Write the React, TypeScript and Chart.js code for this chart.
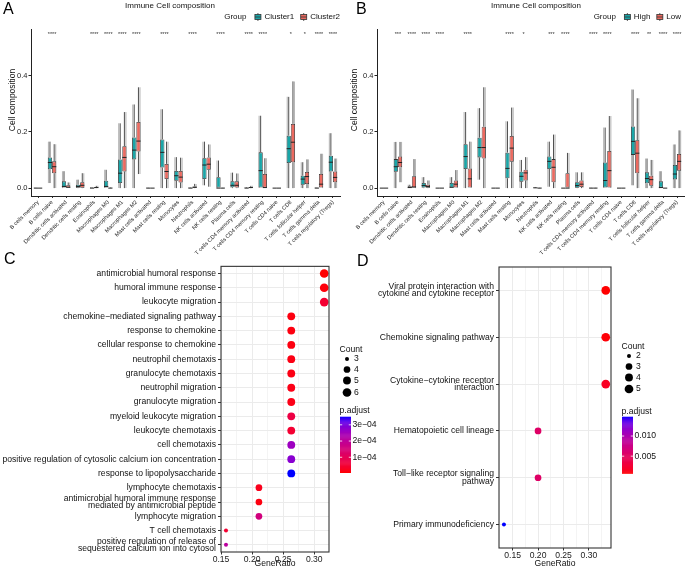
import React, { useEffect, useRef } from 'react';
import { Chart, registerables } from 'chart.js';
Chart.register(...registerables);

const FONT = "'Liberation Sans', Arial, Helvetica, sans-serif";
Chart.defaults.font.family = FONT;

const TEAL = '#1AA6A8';
const SALMON = '#EC6A60';

// ---------- Panel A / B data ----------
const cellTypes = [
  'B cells memory', 'B cells naive', 'Dendritic cells activated', 'Dendritic cells resting',
  'Eosinophils', 'Macrophages M0', 'Macrophages M1', 'Macrophages M2', 'Mast cells activated',
  'Mast cells resting', 'Monocytes', 'Neutrophils', 'NK cells activated', 'NK cells resting',
  'Plasma cells', 'T cells CD4 memory activated', 'T cells CD4 memory resting', 'T cells CD4 naive',
  'T cells CD8', 'T cells follicular helper', 'T cells gamma delta', 'T cells regulatory (Tregs)'
];

// [min, q1, median, q3, max]
const cluster1 = [
  [0, 0, 0, 0, 0.001], [0.018, 0.067, 0.091, 0.109, 0.165], [0, 0, 0.006, 0.024, 0.06],
  [0, 0.001, 0.006, 0.012, 0.03], [0, 0, 0, 0.002, 0.004], [0, 0, 0.006, 0.026, 0.065],
  [0, 0.018, 0.053, 0.102, 0.23], [0, 0.102, 0.135, 0.18, 0.297], [0, 0, 0, 0, 0.001],
  [0, 0.073, 0.127, 0.173, 0.28], [0, 0.026, 0.044, 0.061, 0.11], [0, 0, 0, 0.001, 0.002],
  [0.01, 0.032, 0.082, 0.106, 0.165], [0, 0, 0, 0.039, 0.098], [0, 0.003, 0.01, 0.024, 0.055],
  [0, 0, 0, 0.001, 0.003], [0, 0, 0.062, 0.127, 0.257], [0, 0, 0, 0, 0],
  [0, 0.089, 0.14, 0.186, 0.324], [0, 0.012, 0.032, 0.044, 0.092], [0, 0, 0, 0.001, 0.002],
  [0, 0.059, 0.092, 0.115, 0.195]
];
const cluster2 = [
  [0, 0, 0, 0, 0], [0, 0.053, 0.076, 0.095, 0.156], [0, 0, 0.003, 0.01, 0.02],
  [0, 0.001, 0.01, 0.021, 0.053], [0, 0.001, 0.002, 0.004, 0.008], [0, 0, 0, 0, 0.002],
  [0, 0.059, 0.109, 0.149, 0.27], [0.05, 0.13, 0.167, 0.235, 0.358], [0, 0, 0, 0, 0],
  [0, 0.032, 0.059, 0.086, 0.165], [0, 0.02, 0.039, 0.061, 0.108], [0, 0.001, 0.003, 0.006, 0.015],
  [0.005, 0.065, 0.085, 0.109, 0.155], [0, 0, 0, 0, 0.001], [0, 0.002, 0.01, 0.024, 0.052],
  [0, 0.001, 0.002, 0.004, 0.008], [0, 0, 0.002, 0.05, 0.106], [0, 0, 0, 0, 0],
  [0, 0.092, 0.163, 0.228, 0.379], [0, 0.014, 0.041, 0.057, 0.102], [0, 0, 0.014, 0.05, 0.122],
  [0, 0.021, 0.038, 0.059, 0.105]
];
const starsA = ['', '****', '', '', '****', '****', '****', '****', '', '****', '', '****', '', '****',
  '', '****', '****', '', '*', '*', '****', '****'];

const riskHigh = [
  [0, 0, 0, 0, 0], [0, 0.058, 0.076, 0.103, 0.164], [0, 0, 0.002, 0.007, 0.012],
  [0, 0.002, 0.009, 0.018, 0.039], [0, 0, 0, 0, 0], [0, 0, 0.003, 0.018, 0.039],
  [0, 0.068, 0.112, 0.156, 0.27], [0.03, 0.109, 0.144, 0.179, 0.284], [0, 0, 0, 0, 0],
  [0, 0.035, 0.07, 0.126, 0.237], [0, 0.023, 0.042, 0.058, 0.1], [0, 0, 0.001, 0.002, 0.004],
  [0.005, 0.068, 0.095, 0.112, 0.165], [0, 0, 0, 0, 0], [0, 0.001, 0.009, 0.021, 0.056],
  [0, 0, 0, 0, 0.001], [0, 0, 0.027, 0.091, 0.215], [0, 0, 0, 0, 0],
  [0.01, 0.118, 0.166, 0.219, 0.35], [0, 0.017, 0.034, 0.056, 0.105], [0, 0, 0.002, 0.024, 0.06],
  [0, 0.031, 0.05, 0.082, 0.155]
];
const riskLow = [
  [0, 0, 0, 0, 0], [0.021, 0.074, 0.091, 0.112, 0.164], [0, 0, 0.004, 0.042, 0.103],
  [0, 0.001, 0.006, 0.012, 0.027], [0, 0, 0, 0, 0], [0, 0, 0.014, 0.027, 0.064],
  [0, 0, 0.033, 0.07, 0.165], [0, 0.105, 0.144, 0.218, 0.358], [0, 0, 0, 0, 0],
  [0, 0.094, 0.142, 0.185, 0.286], [0, 0.027, 0.054, 0.065, 0.11], [0, 0, 0, 0, 0.001],
  [0, 0.021, 0.074, 0.103, 0.19], [0, 0, 0, 0.053, 0.125], [0, 0.004, 0.014, 0.027, 0.056],
  [0, 0, 0, 0, 0.001], [0, 0, 0.062, 0.132, 0.256], [0, 0, 0, 0, 0],
  [0, 0.053, 0.124, 0.17, 0.319], [0, 0.008, 0.03, 0.044, 0.1], [0, 0, 0, 0, 0],
  [0, 0.062, 0.095, 0.121, 0.205]
];
const starsB = ['', '***', '****', '****', '****', '', '****', '', '', '****', '*', '', '***', '****',
  '', '****', '****', '', '****', '**', '****', '****'];

const boxYTicks = [0, 0.2, 0.4];

// ---------- Panel C data ----------
const termsC = [
  'antimicrobial humoral response', 'humoral immune response', 'leukocyte migration',
  'chemokine\u2212mediated signaling pathway', 'response to chemokine', 'cellular response to chemokine',
  'neutrophil chemotaxis', 'granulocyte chemotaxis', 'neutrophil migration', 'granulocyte migration',
  'myeloid leukocyte migration', 'leukocyte chemotaxis', 'cell chemotaxis',
  'positive regulation of cytosolic calcium ion concentration', 'response to lipopolysaccharide',
  'lymphocyte chemotaxis', ['antimicrobial humoral immune response', 'mediated by antimicrobial peptide'],
  'lymphocyte migration', 'T cell chemotaxis',
  ['positive regulation of release of', 'sequestered calcium ion into cytosol']
];
const ratioC = [0.316, 0.316, 0.316, 0.263, 0.263, 0.263, 0.263, 0.263, 0.263, 0.263, 0.263, 0.263,
  0.263, 0.263, 0.263, 0.211, 0.211, 0.211, 0.158, 0.158];
const countC = [6, 6, 6, 5, 5, 5, 5, 5, 5, 5, 5, 5, 5, 5, 5, 4, 4, 4, 3, 3];
const padjC = [6e-6, 1.2e-5, 5e-5, 1.5e-5, 1.5e-5, 1.5e-5, 1.8e-5, 1.8e-5, 2e-5, 2e-5, 7.5e-5, 5e-5,
  2.6e-4, 2.85e-4, 3.5e-4, 2.5e-5, 1.5e-5, 1.6e-4, 5e-5, 2.1e-4];
const ticksC = [0.15, 0.175, 0.2, 0.225, 0.25, 0.275, 0.3];
const countLegendC = [3, 4, 5, 6];
const padjBreaksC = [1e-4, 2e-4, 3e-4];
const padjLabelsC = ['1e\u221204', '2e\u221204', '3e\u221204'];

// ---------- Panel D data ----------
const termsD = [
  ['Viral protein interaction with', 'cytokine and cytokine receptor'], 'Chemokine signaling pathway',
  ['Cytokine\u2212cytokine receptor', 'interaction'], 'Hematopoietic cell lineage',
  ['Toll\u2212like receptor signaling', 'pathway'], 'Primary immunodeficiency'
];
const ratioD = [0.333, 0.333, 0.333, 0.2, 0.2, 0.133];
const countD = [5, 5, 5, 3, 3, 2];
const padjD = [0.00075, 0.0009, 0.0018, 0.0056, 0.0056, 0.0148];
const ticksD = [0.125, 0.15, 0.175, 0.2, 0.225, 0.25, 0.275, 0.3, 0.325];
const countLegendD = [2, 3, 4, 5];
const padjBreaksD = [0.005, 0.01];
const padjLabelsD = ['0.005', '0.010'];

const majorGO = [0.15, 0.2, 0.25, 0.3];

// ---------- colour helpers (Lab interpolation red -> blue) ----------
const XN = 0.95047, YN = 1, ZN = 1.08883;
function srgbToLin(c: number) { c /= 255; return c <= 0.04045 ? c / 12.92 : Math.pow((c + 0.055) / 1.055, 2.4); }
function linToSrgb(c: number) {
  const v = c <= 0.0031308 ? 12.92 * c : 1.055 * Math.pow(Math.max(c, 0), 1 / 2.4) - 0.055;
  return Math.round(Math.min(1, Math.max(0, v)) * 255);
}
function rgbToLab(rgb: number[]) {
  const R = srgbToLin(rgb[0]), G = srgbToLin(rgb[1]), B = srgbToLin(rgb[2]);
  const X = (0.4124 * R + 0.3576 * G + 0.1805 * B) / XN;
  const Y = (0.2126 * R + 0.7152 * G + 0.0722 * B) / YN;
  const Z = (0.0193 * R + 0.1192 * G + 0.9505 * B) / ZN;
  const f = (t: number) => (t > 0.008856 ? Math.cbrt(t) : 7.787 * t + 16 / 116);
  const fx = f(X), fy = f(Y), fz = f(Z);
  return [116 * fy - 16, 500 * (fx - fy), 200 * (fy - fz)];
}
function labToRgb(lab: number[]) {
  const fy = (lab[0] + 16) / 116, fx = fy + lab[1] / 500, fz = fy - lab[2] / 200;
  const finv = (t: number) => { const t3 = t * t * t; return t3 > 0.008856 ? t3 : (t - 16 / 116) / 7.787; };
  const X = XN * finv(fx), Y = YN * finv(fy), Z = ZN * finv(fz);
  const R = 3.2406 * X - 1.5372 * Y - 0.4986 * Z;
  const G = -0.9689 * X + 1.8758 * Y + 0.0415 * Z;
  const B = 0.0557 * X - 0.204 * Y + 1.057 * Z;
  return `rgb(${linToSrgb(R)},${linToSrgb(G)},${linToSrgb(B)})`;
}
const LAB_LO = rgbToLab([255, 0, 0]);
const LAB_HI = rgbToLab([0, 0, 255]);
function gradColor(t: number) {
  const tt = Math.min(1, Math.max(0, t));
  return labToRgb(LAB_LO.map((c, i) => c + (LAB_HI[i] - c) * tt));
}
function dotRadius(c: number, lo: number, hi: number) {
  return 2 + 2.35 * Math.sqrt((c - lo) / (hi - lo));
}
const isMajor = (v: any) => typeof v === 'number' && majorGO.some((m) => Math.abs(m - v) < 1e-6);

// ---------- box plot panels ----------
function buildBox(canvas: HTMLCanvasElement, p: any) {
  const colors = [TEAL, SALMON];
  const extras = {
    id: 'boxExtras',
    beforeDatasetsDraw(chart: any) {
      const ctx = chart.ctx; const ys = chart.scales.y;
      p.groups.forEach((g: number[][], d: number) => {
        const meta = chart.getDatasetMeta(d);
        g.forEach((s, j) => {
          const el = meta.data[j]; const x = el.x;
          ctx.save();
          ctx.strokeStyle = 'rgba(165,165,165,0.8)'; ctx.lineWidth = 1.1;
          const gx = x + (d === 0 ? -1.5 : 1.5);
          ctx.beginPath(); ctx.moveTo(gx, ys.getPixelForValue(s[0])); ctx.lineTo(gx, ys.getPixelForValue(s[4])); ctx.stroke();
          ctx.strokeStyle = '#3a3a3a'; ctx.lineWidth = 0.9;
          ctx.beginPath();
          ctx.moveTo(x, ys.getPixelForValue(s[4])); ctx.lineTo(x, ys.getPixelForValue(s[3]));
          ctx.moveTo(x, ys.getPixelForValue(s[1])); ctx.lineTo(x, ys.getPixelForValue(s[0]));
          ctx.stroke();
          ctx.restore();
        });
      });
    },
    afterDatasetsDraw(chart: any) {
      const ctx = chart.ctx; const ys = chart.scales.y; const xs = chart.scales.x;
      p.groups.forEach((g: number[][], d: number) => {
        const meta = chart.getDatasetMeta(d);
        g.forEach((s, j) => {
          const el = meta.data[j]; const w = el.width;
          const y = ys.getPixelForValue(s[2]);
          ctx.save(); ctx.strokeStyle = '#222'; ctx.lineWidth = 1;
          ctx.beginPath(); ctx.moveTo(el.x - w / 2, y); ctx.lineTo(el.x + w / 2, y); ctx.stroke();
          ctx.restore();
        });
      });
      ctx.save();
      ctx.font = `5.5px ${FONT}`; ctx.fillStyle = '#333'; ctx.textAlign = 'center'; ctx.textBaseline = 'middle';
      p.stars.forEach((st: string, i: number) => {
        if (st) ctx.fillText(st, xs.getPixelForValue(i), ys.getPixelForValue(0.55) + 1.5);
      });
      ctx.restore();
    },
    afterDraw(chart: any) {
      const ctx = chart.ctx;
      ctx.save();
      ctx.fillStyle = '#111'; ctx.textBaseline = 'middle';
      ctx.font = `8px ${FONT}`; ctx.textAlign = 'center';
      ctx.fillText('Immune Cell composition', p.titleX, 6);
      // legend
      ctx.textAlign = 'left';
      const gw = ctx.measureText('Group').width;
      const ws = p.names.map((n: string) => ctx.measureText(n).width);
      const total = gw + 8 + ws.reduce((a: number, w: number) => a + 10 + w, 0) + 6 * (ws.length - 1);
      let x = p.legendEnd - total; const ly = 17;
      ctx.fillText('Group', x, ly); x += gw + 8;
      p.names.forEach((n: string, i: number) => {
        ctx.strokeStyle = '#333'; ctx.lineWidth = 0.8;
        ctx.beginPath(); ctx.moveTo(x + 3.5, ly - 4); ctx.lineTo(x + 3.5, ly + 4); ctx.stroke();
        ctx.fillStyle = colors[i]; ctx.fillRect(x + 0.5, ly - 2.5, 6, 5);
        ctx.strokeRect(x + 0.5, ly - 2.5, 6, 5);
        ctx.beginPath(); ctx.moveTo(x + 0.5, ly); ctx.lineTo(x + 6.5, ly); ctx.stroke();
        ctx.fillStyle = '#111';
        ctx.fillText(n, x + 10, ly);
        x += 10 + ws[i] + 6;
      });
      // y title
      ctx.translate(p.yTitleX, 100); ctx.rotate(-Math.PI / 2);
      ctx.font = `8.5px ${FONT}`; ctx.textAlign = 'center';
      ctx.fillText('Cell composition', 0, 0);
      ctx.restore();
    }
  };
  return new Chart(canvas, {
    type: 'bar',
    data: {
      labels: cellTypes,
      datasets: p.groups.map((g: number[][], d: number) => ({
        label: p.names[d],
        data: g.map((s) => [s[1], s[3]]),
        backgroundColor: colors[d], borderColor: '#333', borderWidth: 0.8, borderSkipped: false,
        categoryPercentage: 0.6, barPercentage: 1
      }))
    },
    options: {
      responsive: false, animation: false, devicePixelRatio: 1, events: [],
      layout: { padding: { top: 29, right: p.rightPad, left: 0, bottom: 0 } },
      plugins: { legend: { display: false }, title: { display: false }, tooltip: { enabled: false } },
      scales: {
        x: {
          type: 'category', offset: true,
          grid: { display: true, drawOnChartArea: false, drawTicks: true, tickLength: 2, tickColor: '#333', offset: false },
          border: { display: true, color: '#222', width: 1 },
          ticks: { autoSkip: false, maxRotation: 45, minRotation: 45, font: { size: 5.6 }, color: '#1a1a1a', padding: 1 },
          afterFit: (s: any) => { s.height = 66; s.paddingLeft = 0; s.paddingRight = 0; }
        },
        y: {
          type: 'linear', min: -0.028, max: 0.565,
          grid: { display: true, drawOnChartArea: false, tickLength: 2.5, tickColor: '#222' },
          border: { display: true, color: '#222', width: 1 },
          ticks: { font: { size: 7.5 }, color: '#222', padding: 1, callback: (v: any) => Number(v).toFixed(1) },
          afterBuildTicks: (s: any) => { s.ticks = boxYTicks.map((v) => ({ value: v })); },
          afterFit: (s: any) => { s.width = p.yWidth; s.paddingTop = 0; s.paddingBottom = 0; }
        }
      }
    } as any,
    plugins: [extras as any]
  });
}

// ---------- dot plot panels ----------
function buildDot(canvas: HTMLCanvasElement, p: any) {
  const cLo = Math.min(...p.count), cHi = Math.max(...p.count);
  const pLo = Math.min(...p.padj), pHi = Math.max(...p.padj);
  const extras = {
    id: 'dotExtras',
    afterDatasetsDraw(chart: any) {
      const ctx = chart.ctx; const ca = chart.chartArea;
      ctx.save();
      ctx.strokeStyle = '#333'; ctx.lineWidth = 1.1;
      ctx.strokeRect(ca.left, ca.top, ca.right - ca.left, ca.bottom - ca.top);
      ctx.restore();
    },
    afterDraw(chart: any) {
      const ctx = chart.ctx; const ca = chart.chartArea;
      const lx = ca.right + 10.5;
      ctx.save();
      ctx.font = `8.6px ${FONT}`; ctx.fillStyle = '#111'; ctx.textAlign = 'left'; ctx.textBaseline = 'middle';
      ctx.fillText('Count', lx, p.countTitleY);
      p.countLegend.forEach((c: number, i: number) => {
        const cy = p.countY[i];
        ctx.fillStyle = '#000';
        ctx.beginPath(); ctx.arc(lx + 7.5, cy, dotRadius(c, cLo, cHi), 0, Math.PI * 2); ctx.fill();
        ctx.fillStyle = '#111';
        ctx.fillText(String(c), lx + 14.5, cy);
      });
      ctx.fillText('p.adjust', lx, p.padjTitleY);
      const bx = lx + 0.5, bw = 11, bt = p.barTop, bb = p.barBottom;
      const n = 60;
      for (let k = 0; k < n; k++) {
        const y0 = bb - (k / n) * (bb - bt);
        const y1 = bb - ((k + 1) / n) * (bb - bt);
        ctx.fillStyle = gradColor((k + 0.5) / n);
        ctx.fillRect(bx, y1, bw, y0 - y1 + 0.5);
      }
      ctx.strokeStyle = '#fff'; ctx.lineWidth = 0.8;
      p.padjBreaks.forEach((v: number, i: number) => {
        const y = bb - ((v - pLo) / (pHi - pLo)) * (bb - bt);
        ctx.beginPath();
        ctx.moveTo(bx, y); ctx.lineTo(bx + 2.2, y);
        ctx.moveTo(bx + bw - 2.2, y); ctx.lineTo(bx + bw, y);
        ctx.stroke();
        ctx.fillStyle = '#111';
        ctx.fillText(p.padjLabels[i], bx + bw + 1.5, y);
      });
      ctx.restore();
    }
  };
  return new Chart(canvas, {
    type: 'scatter',
    data: {
      datasets: [{
        data: p.terms.map((_: any, i: number) => ({ x: p.ratio[i], y: i })),
        pointRadius: p.count.map((c: number) => dotRadius(c, cLo, cHi)),
        pointHoverRadius: p.count.map((c: number) => dotRadius(c, cLo, cHi)),
        backgroundColor: p.padj.map((v: number) => gradColor((v - pLo) / (pHi - pLo))),
        borderWidth: 0
      }]
    },
    options: {
      responsive: false, animation: false, devicePixelRatio: 1, events: [],
      layout: { padding: { top: p.padTop, right: p.padRight, left: 0, bottom: 0 } },
      plugins: { legend: { display: false }, title: { display: false }, tooltip: { enabled: false } },
      scales: {
        x: {
          type: 'linear', min: p.xmin, max: p.xmax,
          afterBuildTicks: (s: any) => { s.ticks = p.ticks.map((v: number) => ({ value: v })); },
          ticks: {
            autoSkip: false, maxRotation: 0, font: { size: 8.6 }, color: '#1a1a1a', padding: 0,
            callback: (v: any) => (isMajor(v) ? Number(v).toFixed(2) : '')
          },
          grid: {
            color: '#EBEBEB',
            lineWidth: (c: any) => (c.tick && isMajor(c.tick.value) ? 1 : 0.55),
            tickColor: (c: any) => (c.tick && isMajor(c.tick.value) ? '#333' : 'rgba(0,0,0,0)'),
            tickLength: 2.5
          },
          border: { display: false },
          title: { display: true, text: 'GeneRatio', font: { size: 8.6 }, color: '#111', padding: { top: 0, bottom: 0 } },
          afterFit: (s: any) => { s.height = p.xHeight; s.paddingLeft = 0; s.paddingRight = 0; }
        },
        y: {
          type: 'category', labels: p.terms, offset: true,
          grid: { color: '#EBEBEB', lineWidth: 1, offset: false, tickColor: '#333', tickLength: 3 },
          border: { display: false },
          ticks: { autoSkip: false, font: { size: 8.6, lineHeight: 0.85 }, color: '#111', padding: 2 },
          afterFit: (s: any) => { s.width = p.yWidth; s.paddingTop = 0; s.paddingBottom = 0; }
        }
      }
    } as any,
    plugins: [extras as any]
  });
}

function ChartCanvas(props: { x: number; y: number; w: number; h: number; build: (c: HTMLCanvasElement) => Chart }) {
  const ref = useRef<HTMLCanvasElement>(null);
  useEffect(() => {
    const chart = props.build(ref.current as HTMLCanvasElement);
    return () => chart.destroy();
  }, []);
  return (
    <canvas ref={ref} width={props.w} height={props.h}
      style={{ position: 'absolute', left: props.x, top: props.y, width: props.w, height: props.h }} />
  );
}

const letterStyle = (left: number, top: number): React.CSSProperties => ({
  position: 'absolute', left, top, fontFamily: FONT, fontSize: 16, lineHeight: '16px', color: '#000'
});

export default function App() {
  return (
    <div style={{ position: 'fixed', left: 0, top: 0, width: 685, height: 569, background: '#fff', overflow: 'hidden' }}>
      <ChartCanvas x={0} y={0} w={342} h={262} build={(c) => buildBox(c, {
        groups: [cluster1, cluster2], names: ['Cluster1', 'Cluster2'], stars: starsA,
        titleX: 170, legendEnd: 340, rightPad: 2, yWidth: 31, yTitleX: 13
      })} />
      <ChartCanvas x={343} y={0} w={342} h={262} build={(c) => buildBox(c, {
        groups: [riskHigh, riskLow], names: ['High', 'Low'], stars: starsB,
        titleX: 193, legendEnd: 338, rightPad: 1, yWidth: 34, yTitleX: 12
      })} />
      <ChartCanvas x={0} y={262} w={380} h={307} build={(c) => buildDot(c, {
        terms: termsC, ratio: ratioC, count: countC, padj: padjC,
        xmin: 0.15, xmax: 0.3237, ticks: ticksC, yWidth: 221, xHeight: 17, padTop: 4, padRight: 51,
        countLegend: countLegendC, countTitleY: 87.5, countY: [97, 107.5, 118.5, 130.5],
        padjTitleY: 149, barTop: 154.7, barBottom: 210.5, padjBreaks: padjBreaksC, padjLabels: padjLabelsC
      })} />
      <ChartCanvas x={342} y={262} w={343} h={307} build={(c) => buildDot(c, {
        terms: termsD, ratio: ratioD, count: countD, padj: padjD,
        xmin: 0.1233, xmax: 0.3433, ticks: ticksD, yWidth: 157, xHeight: 21, padTop: 5, padRight: 74,
        countLegend: countLegendD, countTitleY: 84.5, countY: [94, 104.5, 115.5, 127],
        padjTitleY: 149.5, barTop: 154.7, barBottom: 211.3, padjBreaks: padjBreaksD, padjLabels: padjLabelsD
      })} />
      <div style={letterStyle(3, 1)}>A</div>
      <div style={letterStyle(356, 1)}>B</div>
      <div style={letterStyle(4, 251)}>C</div>
      <div style={letterStyle(357, 253)}>D</div>
    </div>
  );
}
